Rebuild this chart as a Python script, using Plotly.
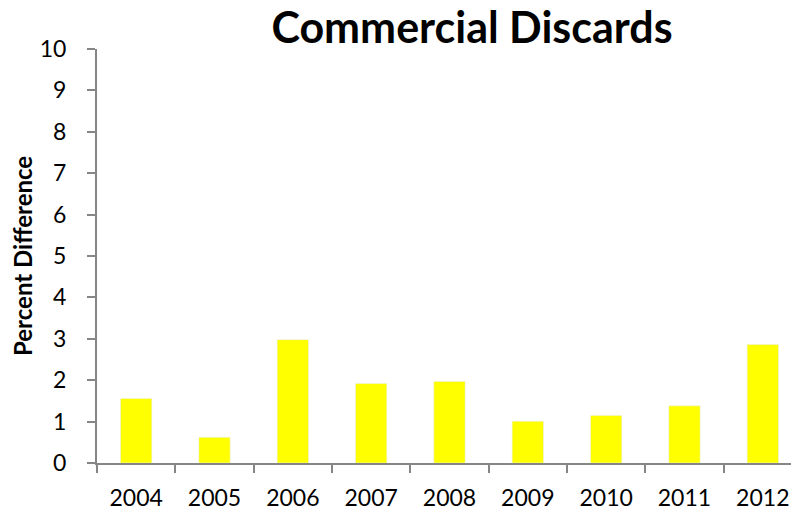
import plotly.graph_objects as go

years = ["2004", "2005", "2006", "2007", "2008", "2009", "2010", "2011", "2012"]
percent_diff = [1.56, 0.62, 2.98, 1.92, 1.97, 1.01, 1.15, 1.38, 2.86]

fig = go.Figure(
    go.Bar(
        x=years,
        y=percent_diff,
        marker_color="#ffff00",
        width=0.4,
    )
)

axis_color = "#868686"

fig.update_layout(
    width=791,
    height=511,
    margin=dict(l=97, r=0, t=49, b=48),
    plot_bgcolor="white",
    paper_bgcolor="white",
    font=dict(family="Lato, Carlito, sans-serif", size=23, color="black"),
    title=dict(
        text="<b>Commercial Discards</b>",
        x=472 / 791,
        xanchor="center",
        xref="container",
        y=1 - 28 / 511,
        yanchor="middle",
        font=dict(size=43, color="black"),
    ),
    showlegend=False,
)

# y axis title placed as an annotation so it sits where the original does
fig.add_annotation(
    text="<b>Percent Difference</b>",
    xref="paper",
    yref="paper",
    x=(22 - 97) / 694,
    y=0.5,
    xanchor="center",
    yanchor="middle",
    textangle=-90,
    showarrow=False,
    font=dict(size=24, color="black"),
)

fig.update_xaxes(
    type="category",
    range=[-0.5, 8.36],
    automargin=False,
    showline=True,
    linecolor=axis_color,
    linewidth=2,
    ticks="outside",
    tickson="boundaries",
    ticklen=8,
    tickwidth=2,
    tickcolor=axis_color,
    ticklabelstandoff=13,
    showgrid=False,
)

fig.update_yaxes(
    range=[0, 10],
    dtick=1,
    automargin=False,
    showline=True,
    linecolor=axis_color,
    linewidth=2,
    ticks="outside",
    ticklen=8,
    tickwidth=2,
    tickcolor=axis_color,
    ticklabelstandoff=16,
    showgrid=False,
    zeroline=False,
)

# drop the default page margin so the figure fills the window exactly
fig.write_html(
    "out.html",
    config={"displayModeBar": False},
    post_script="document.body.style.margin='0';",
)
